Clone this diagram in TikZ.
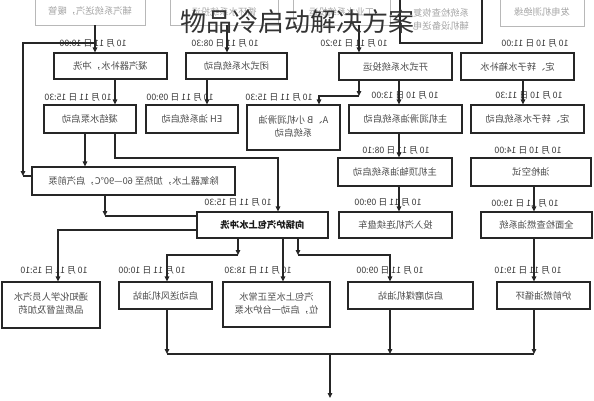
\documentclass[tikz,border=0pt]{standalone}
\usepackage{fontspec}
\setmainfont{Noto Sans CJK SC}
\usetikzlibrary{arrows.meta}
\newcommand{\mr}[1]{\scalebox{-1}[1]{#1}}
\newcommand{\twol}[2]{\begin{tabular}{@{}c@{}}#1\\[1pt]#2\end{tabular}}
\tikzset{
  box/.style 2 args={draw=black!85, line width=1.15pt, fill=white, inner sep=0pt,
    minimum width=#1pt, minimum height=#2pt, font=\fontsize{9.3}{12}\selectfont, text=black!70},
  faded/.style 2 args={draw=black!28, line width=0.8pt, fill=white, inner sep=0pt,
    minimum width=#1pt, minimum height=#2pt, font=\fontsize{9.3}{12}\selectfont, text=black!35},
  lbl/.style={font=\fontsize{8.8}{9}\selectfont, text=black!78, inner sep=0pt},
  ln/.style={draw=black!85, line width=1.15pt},
  arr/.style={ln, -{Triangle[length=5pt,width=4.5pt]}}
}
\begin{document}
\begin{tikzpicture}[x=1pt, y=-1pt]
\useasboundingbox[fill=white] (0,0) rectangle (594,400);
% top faded row
\node[faded={110}{27}] (A) at (90,11.5) {\mr{辅汽系统送汽，暖管}};
\node[faded={108}{27}] (B) at (224,11.5) {\mr{循环水系统投运}};
\node[faded={97}{27}] (B2) at (341.5,11.5) {\mr{工业水系统投运}};
\node[faded={82}{44}, draw=black!85, line width=1.3pt] (C) at (441,21) {\mr{\twol{系统检查恢复}{辅机设备送电}}};
\node[faded={84}{28}] (D) at (542,12) {\mr{发电机测绝缘}};
% row 2
\node[box={113}{26}] (E) at (110.5,66) {\mr{凝汽器补水，冲洗}};
\node[box={101}{26}] (F) at (236.5,66) {\mr{闭式水系统启动}};
\node[box={113}{27}] (G) at (395.5,66.5) {\mr{开式水系统投运}};
\node[box={113}{27}] (H) at (517.5,66.5) {\mr{定、转子水箱补水}};
% row 3
\node[box={92}{28}] (I) at (90,119) {\mr{凝结水泵启动}};
\node[box={92}{28}] (J) at (192,119) {\mr{EH 油系统启动}};
\node[box={93}{45}] (K) at (293.5,127.5) {\mr{\twol{A、B 小机润滑油}{系统启动}}};
\node[box={113}{28}] (L) at (405.5,119) {\mr{主机润滑油系统启动}};
\node[box={113}{28}] (M) at (527.5,119) {\mr{定、转子水系统启动}};
% row 4
\node[box={203}{28}] (N) at (133.5,181) {\mr{除氧器上水，加热至 60—90℃，启汽前泵}};
\node[box={114}{28}] (O) at (395,172) {\mr{主机顶轴油系统启动}};
\node[box={120}{28}] (P) at (531,172) {\mr{油枪空试}};
% row 5
\node[box={131}{26}, font=\fontsize{9.3}{12}\selectfont\bfseries, text=black!90] (Q) at (262.5,225) {\mr{向锅炉汽包上水冲洗}};
\node[box={113}{26}] (R) at (395.5,225) {\mr{投入汽机连续盘车}};
\node[box={111}{26}] (S) at (536.5,225) {\mr{全面检查燃油系统}};
% row 6
\node[box={98}{46}] (T) at (51,305) {\mr{\twol{通知化学人员汽水}{品质监督及加药}}};
\node[box={93}{27}] (U) at (165.5,295.5) {\mr{启动送风机油站}};
\node[box={107}{45}] (V) at (276.5,304.5) {\mr{\twol{汽包上水至正常水}{位，启动一台炉水泵}}};
\node[box={125}{27}] (W) at (410.5,295.5) {\mr{启动磨煤机油站}};
\node[box={93}{27}] (X) at (543.5,295.5) {\mr{炉前燃油循环}};
% date labels
\node[lbl] (l1) at (93,43) {\mr{10 月 11 日 10:00}};
\node[lbl] (l2) at (225,43) {\mr{10 月 11 日 08:30}};
\node[lbl] (l3) at (354,43) {\mr{10 月 11 日 19:20}};
\node[lbl] (l4) at (535,43) {\mr{10 月 10 日 11:00}};
\node[lbl] (l5) at (78,97) {\mr{10 月 11 日 15:30}};
\node[lbl] (l6) at (180,97) {\mr{10 月 11 日 09:00}};
\node[lbl] (l7) at (279,97) {\mr{10 月 11 日 15:30}};
\node[lbl] (l8) at (405,95) {\mr{10 月 10 日 13:00}};
\node[lbl] (l9) at (529,95) {\mr{10 月 10 日 11:30}};
\node[lbl] (l10) at (396,150) {\mr{10 月 11 日 08:10}};
\node[lbl] (l11) at (528,150) {\mr{10 月 10 日 14:00}};
\node[lbl] (l12) at (238,202) {\mr{10 月 11 日 15:30}};
\node[lbl] (l13) at (388,202) {\mr{10 月 11 日 09:00}};
\node[lbl] (l14) at (525,203) {\mr{10 月 11 日 19:00}};
\node[lbl] (l15) at (54,270) {\mr{10 月 11 日 15:10}};
\node[lbl] (l16) at (152,270) {\mr{10 月 11 日 10:00}};
\node[lbl] (l17) at (258,270) {\mr{10 月 11 日 18:30}};
\node[lbl] (l18) at (390,270) {\mr{10 月 11 日 09:00}};
\node[lbl] (l19) at (528,270) {\mr{10 月 11 日 19:10}};
% coordinates
\coordinate (jA) at (95,43);
\coordinate (kA) at (23,43);
\coordinate (kB) at (23,176);
\coordinate (xF) at (227,0);
\coordinate (xG) at (359,0);
\coordinate (xI) at (115,0);
\coordinate (xJ) at (207,0);
\coordinate (g1) at (359,96);
\coordinate (g2) at (319,96);
\coordinate (xL) at (399,0);
\coordinate (xM) at (523,0);
\coordinate (xN) at (85,0);
\coordinate (i1) at (115,158);
\coordinate (i2) at (278,158);
\coordinate (n1) at (105,216);
\coordinate (q1) at (58,230);
\coordinate (q2) at (238,255);
\coordinate (q3) at (167,255);
\coordinate (xV) at (283,0);
\coordinate (q4) at (298,255);
\coordinate (q5) at (390,255);
\coordinate (xS) at (534,0);
\coordinate (b1) at (167,354);
\coordinate (b2) at (390,354);
\coordinate (b3) at (534,354);
\coordinate (b0) at (330,354);
\coordinate (bend) at (330,398);
% connectors
\draw[arr] (A.south -| jA) -- (E.north -| jA);
\draw[arr] (jA) -- (kA) -- (kB);
\draw[ln] (kB) -- (N.west |- kB);
\draw[arr] (B.south -| xF) -- (F.north -| xF);
\draw[arr] (B2.south -| xG) -- (G.north -| xG);
\draw[arr] (E.south -| xI) -- (I.north -| xI);
\draw[arr] (F.south -| xJ) -- (J.north -| xJ);
\draw[arr] (G.south -| g1) -- (g1);
\draw[arr] (g1) -- (g2) -- (K.north -| g2);
\draw[arr] (G.south -| xL) -- (L.north -| xL);
\draw[arr] (H.south -| xM) -- (M.north -| xM);
\draw[arr] (I.south -| xN) -- (N.north -| xN);
\draw[arr] (I.south -| i1) -- (i1) -- (i2) -- (Q.north -| i2);
\draw[arr] (L.south -| xL) -- (O.north -| xL);
\draw[arr] (O.south -| xL) -- (R.north -| xL);
\draw[arr] (N.south -| n1) -- (n1);
\draw[ln] (n1) -- (Q.west |- n1);
\draw[arr] (Q.west |- q1) -- (q1) -- (T.north -| q1);
\draw[arr] (Q.south -| q2) -- (q2);
\draw[arr] (q2) -- (q3) -- (U.north -| q3);
\draw[arr] (Q.south -| xV) -- (V.north -| xV);
\draw[arr] (Q.south -| q4) -- (q4);
\draw[arr] (q4) -- (q5) -- (W.north -| q5);
\draw[arr] (P.south -| xS) -- (S.north -| xS);
\draw[arr] (S.south -| xS) -- (X.north -| xS);
\draw[arr] (U.south -| b1) -- (b1);
\draw[arr] (W.south -| b2) -- (b2);
\draw[arr] (X.south -| b3) -- (b3);
\draw[ln] (b1) -- (b3);
\draw[arr] (b0) -- (bend);
% title
\node[font=\fontsize{26}{26}\selectfont, text=black!80, inner sep=0pt] (title) at (297,22) {物品冷启动解决方案};
\end{tikzpicture}
\end{document}
